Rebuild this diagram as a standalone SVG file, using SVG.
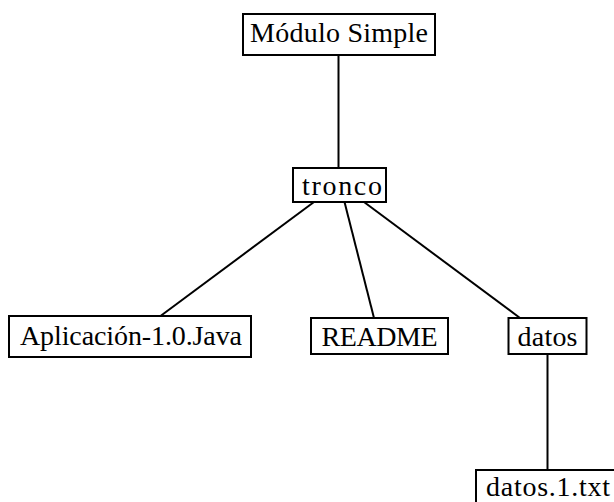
<svg xmlns="http://www.w3.org/2000/svg" width="614" height="502" viewBox="0 0 614 502">
  <style>
    .box { fill: #ffffff; stroke: #000000; stroke-width: 2; }
    .lbl { font-family: 'Liberation Serif', 'Times New Roman', Times, serif; font-size: 28px; fill: #000000; text-anchor: middle; }
    .edge { stroke: #000000; stroke-width: 2; fill: none; }
  </style>
  <rect width="614" height="502" fill="#ffffff"/>

  <!-- tree edges -->
  <g id="connectors">
    <line class="edge" x1="338.5" y1="55" x2="338.5" y2="168"/>
    <line class="edge" x1="314" y1="202" x2="160.5" y2="316"/>
    <line class="edge" x1="344.5" y1="202" x2="374" y2="318"/>
    <line class="edge" x1="364" y1="202" x2="520" y2="318"/>
    <line class="edge" x1="547.5" y1="354" x2="547.5" y2="470"/>
  </g>

  <g id="modulo-simple">
    <rect class="box" x="243" y="14" width="192" height="41"/>
    <text class="lbl" font-family="Liberation Serif, serif" x="339" y="42" textLength="178">Módulo Simple</text>
  </g>

  <g id="tronco">
    <rect class="box" x="293" y="168" width="93" height="34"/>
    <text class="lbl" font-family="Liberation Serif, serif" x="342" y="195" textLength="80">tronco</text>
  </g>

  <g id="aplicacion">
    <rect class="box" x="9" y="316" width="242" height="41"/>
    <text class="lbl" font-family="Liberation Serif, serif" x="131" y="345" textLength="222">Aplicación-1.0.Java</text>
  </g>

  <g id="readme">
    <rect class="box" x="311" y="318" width="137" height="36"/>
    <text class="lbl" font-family="Liberation Serif, serif" x="379.5" y="346" textLength="116">README</text>
  </g>

  <g id="datos">
    <rect class="box" x="508.5" y="318" width="78" height="36"/>
    <text class="lbl" font-family="Liberation Serif, serif" x="547.5" y="346" textLength="60">datos</text>
  </g>

  <g id="datos-1-txt">
    <rect class="box" x="476" y="470" width="146" height="40"/>
    <text class="lbl" font-family="Liberation Serif, serif" x="548" y="496" textLength="124">datos.1.txt</text>
  </g>
</svg>
